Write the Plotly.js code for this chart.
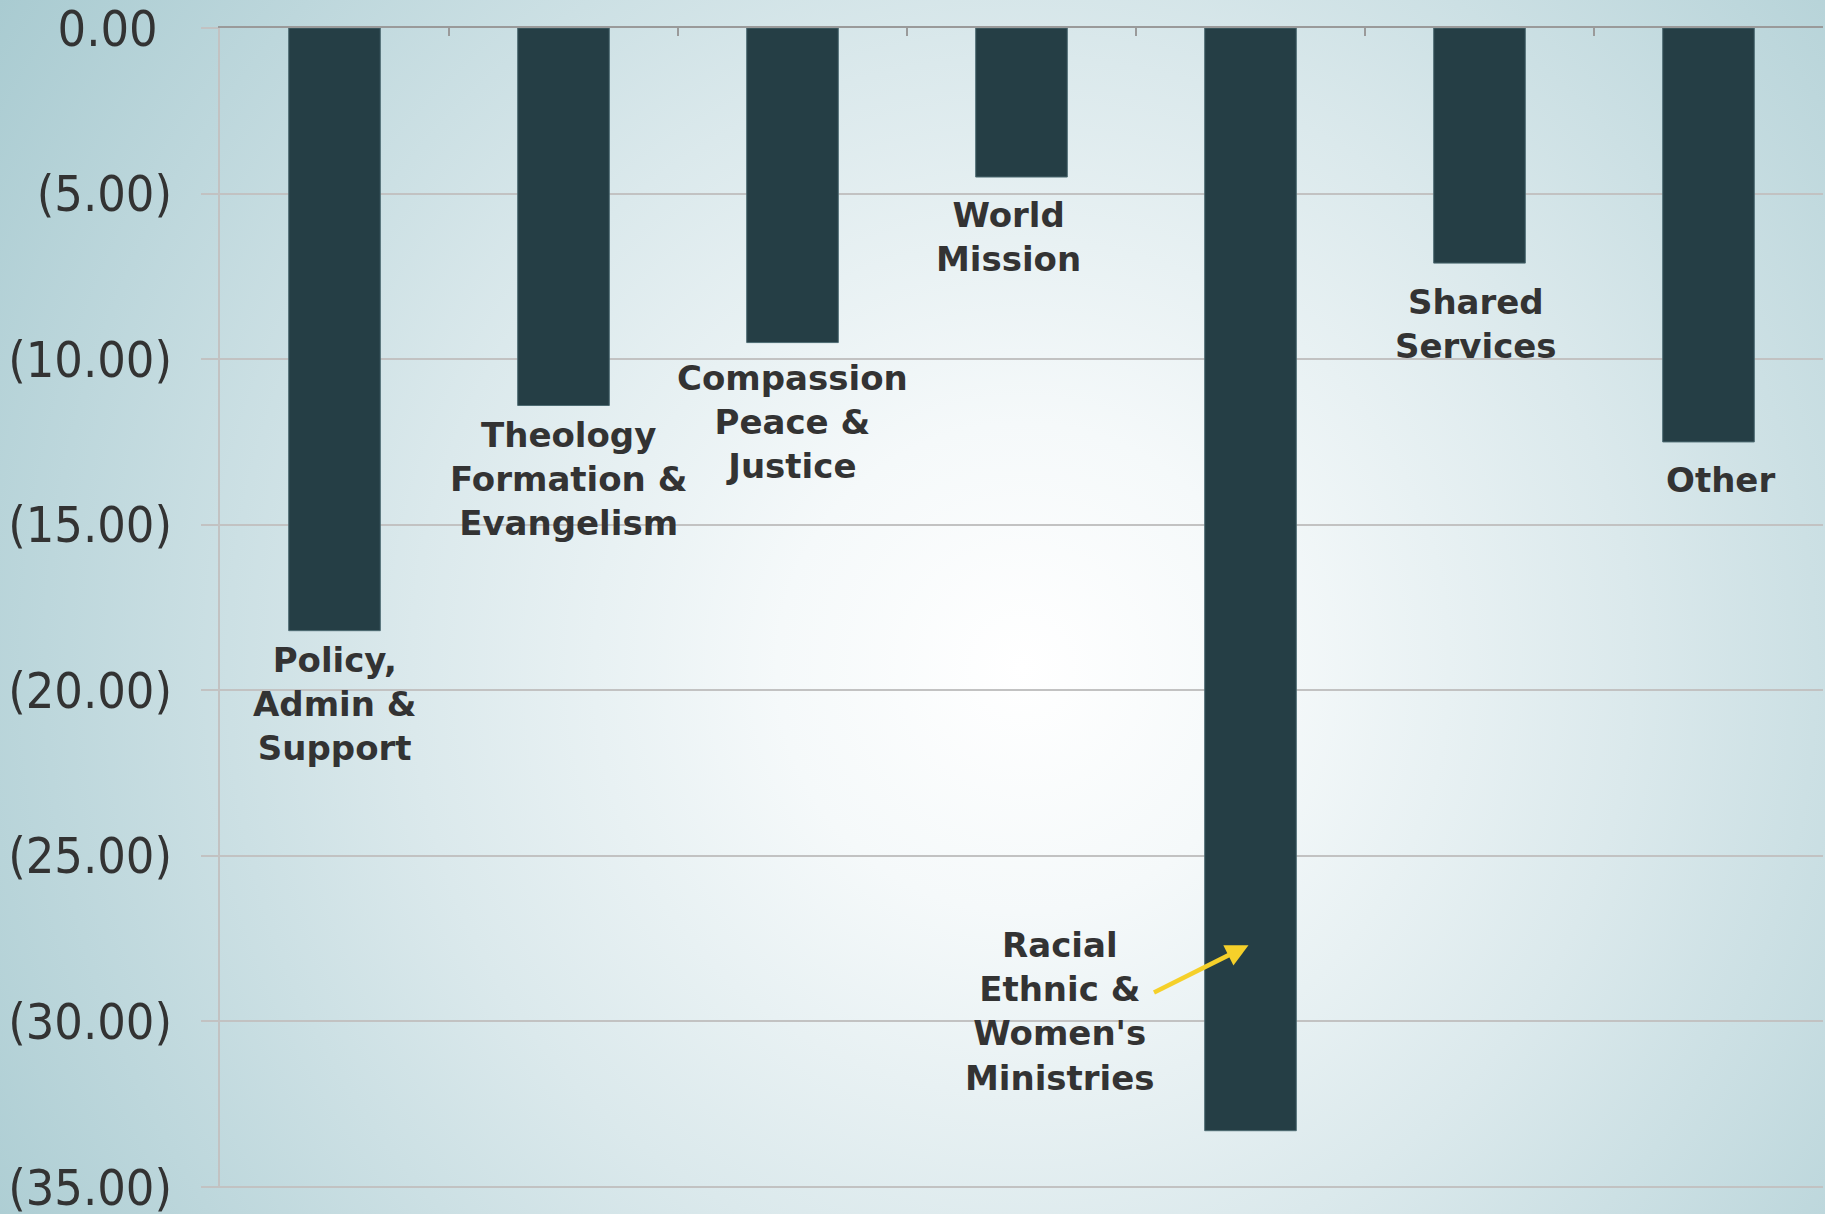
<!DOCTYPE html>
<html>
<head>
<meta charset="utf-8">
<script src="https://cdn.plot.ly/plotly-3.0.1.min.js"></script>
<style>
  html, body { margin: 0; padding: 0; }
  #chart {
    width: 1825px; height: 1214px;
    background: radial-gradient(circle farthest-corner at 56% 55%, #ffffff 0%, #f5f9fa 20%, #dbe9ec 50%, #bdd7dc 80%, #a9cbd1 100%);
  }
</style>
</head>
<body>
<div id="chart"></div>
<script>
// ---- data ----
const categories = [
  'Policy, Admin & Support',
  'Theology Formation & Evangelism',
  'Compassion Peace & Justice',
  'World Mission',
  "Racial Ethnic & Women's Ministries",
  'Shared Services',
  'Other'
];
const barLabels = [
  'Policy,<br>Admin &<br>Support',
  'Theology<br>Formation &<br>Evangelism',
  'Compassion<br>Peace &<br>Justice',
  'World<br>Mission',
  "Racial<br>Ethnic &<br>Women's<br>Ministries",
  'Shared<br>Services',
  'Other'
];
const values = [-18.2, -11.4, -9.5, -4.5, -33.3, -7.1, -12.5];
const tickVals = [0, -5, -10, -15, -20, -25, -30, -35];
const tickText = ['0.00\u2008', '(5.00)', '(10.00)', '(15.00)', '(20.00)', '(25.00)', '(30.00)', '(35.00)'];

// ---- layout helpers (positions only) ----
const labelXShift = [0, 5, 0, -13, 0, -4, 12];
const labelYShift = [-7, -7, -13, -16, 0, -17, -16];
const labelFont = {family: 'DejaVu Sans, Verdana, sans-serif', size: 34, color: '#333333', weight: 'bold'};

const annotations = [];
categories.forEach((c, i) => {
  if (i === 4) {
    annotations.push({
      x: c, y: -26.9, xref: 'x', yref: 'y', xshift: -191, yshift: -4,
      text: barLabels[i], showarrow: false, yanchor: 'top', xanchor: 'center',
      font: labelFont, align: 'center'
    });
  } else {
    annotations.push({
      x: c, y: values[i], xref: 'x', yref: 'y', xshift: labelXShift[i], yshift: labelYShift[i],
      text: barLabels[i], showarrow: false, yanchor: 'top', xanchor: 'center',
      font: labelFont, align: 'center'
    });
  }
});
// yellow arrow pointing at the Racial Ethnic bar
annotations.push({
  x: categories[4], y: -27.7, xref: 'x', yref: 'y', xshift: -2,
  text: '&nbsp;', font: {size: 1},
  showarrow: true, ax: -96, ay: 48, arrowhead: 2, arrowsize: 1, arrowwidth: 4.5,
  arrowcolor: '#f5d02a'
});

const trace = {
  type: 'bar',
  x: categories,
  y: values,
  marker: {color: '#253e45', line: {color: '#4d6b72', width: 1}},
  hoverinfo: 'skip'
};

const bottomTick = tickVals[tickVals.length - 1];

const layout = {
  width: 1825, height: 1214,
  margin: {l: 220, r: 2, t: 28, b: 26, pad: 0},
  paper_bgcolor: 'rgba(0,0,0,0)',
  plot_bgcolor: 'rgba(0,0,0,0)',
  showlegend: false,
  bargap: 0.6,
  xaxis: {
    type: 'category',
    side: 'top',
    showline: true, linecolor: '#9a9a9a', linewidth: 2,
    ticks: 'inside', tickson: 'boundaries', ticklen: 8, tickcolor: '#9a9a9a', tickwidth: 2,
    showticklabels: false, showgrid: false, zeroline: false,
    fixedrange: true
  },
  yaxis: {
    range: [-35.03, 0],
    tickvals: tickVals, ticktext: tickText,
    showline: true, linecolor: '#c2c2c2', linewidth: 2,
    ticks: 'outside', ticklen: 17, tickcolor: '#c2c2c2', tickwidth: 2,
    showgrid: true, gridcolor: '#c2c2c2', gridwidth: 2,
    zeroline: false,
    ticklabelstandoff: 19,
    ticklabeloverflow: 'allow',
    tickfont: {family: 'DejaVu Sans Condensed, DejaVu Sans, sans-serif', size: 50, color: '#333333'},
    fixedrange: true
  },
  shapes: [{
    type: 'line', xref: 'paper', yref: 'y', x0: 0, x1: 1, y0: bottomTick, y1: bottomTick,
    line: {color: '#c2c2c2', width: 2}, layer: 'below'
  }],
  annotations: annotations
};

Plotly.newPlot('chart', [trace], layout, {staticPlot: true, displayModeBar: false});
</script>
</body>
</html>
